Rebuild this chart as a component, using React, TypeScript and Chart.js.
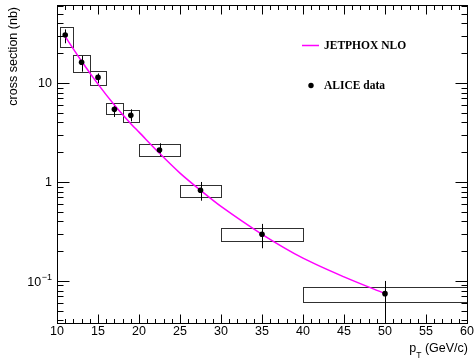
import React, { useEffect, useRef } from 'react';
import { Chart, registerables } from 'chart.js';

Chart.register(...registerables);

// ALICE data points
const ptCenters = [11, 13, 15, 17, 19, 22.5, 27.5, 35, 50];
const binLow = [10.4, 12, 14, 16, 18, 20, 25, 30, 40];
const binHigh = [12, 14, 16, 18, 20, 25, 30, 40, 60];
const aliceValues = [30.5, 16.2, 11.4, 5.42, 4.71, 2.1, 0.824, 0.296, 0.0744];
const statLow = [25.2, 13.0, 9.93, 4.54, 4.1, 1.83, 0.647, 0.214, 0.03];
const statHigh = [34.8, 18.8, 12.5, 6.13, 5.42, 2.46, 1.0, 0.377, 0.1];
const sysLow = [23.3, 12.9, 9.48, 4.86, 4.04, 1.83, 0.7, 0.253, 0.0619];
const sysHigh = [36.5, 19.0, 13.3, 6.24, 5.34, 2.42, 0.926, 0.34, 0.0865];

// JETPHOX NLO curve
const nloPt = [11, 13, 15, 17, 19, 20, 22.5, 25, 27.5, 30, 35, 40, 45, 50];
const nloValues = [29.4, 16.6, 9.75, 6.0, 3.88, 3.19, 1.95, 1.23, 0.824, 0.566, 0.296, 0.17, 0.11, 0.0745];

// Axes
const xMin = 10;
const xMax = 60;
const yMin = 0.0376;
const yMax = 61.4;
const xMajorTicks = [10, 15, 20, 25, 30, 35, 40, 45, 50, 55, 60];
const yMajorTicks = [0.1, 1, 10];

const SANS = '"Liberation Sans", Arial, Helvetica, sans-serif';
const SERIF = '"Liberation Serif", "Times New Roman", serif';

const rootStyle = {
  id: 'rootStyle',
  beforeDatasetsDraw(chart: any) {
    const { ctx, chartArea: a } = chart;
    const xs = chart.scales.x;
    const ys = chart.scales.y;
    ctx.save();
    ctx.beginPath();
    ctx.rect(a.left, a.top, a.right - a.left, a.bottom - a.top);
    ctx.clip();
    ctx.lineWidth = 1;
    ctx.strokeStyle = '#303030';
    for (let i = 0; i < ptCenters.length; i++) {
      const x0 = Math.round(xs.getPixelForValue(binLow[i])) + 0.5;
      const x1 = Math.round(xs.getPixelForValue(binHigh[i])) + 0.5;
      const y0 = Math.round(ys.getPixelForValue(sysHigh[i])) + 0.5;
      const y1 = Math.round(ys.getPixelForValue(sysLow[i])) + 0.5;
      ctx.strokeRect(x0, y0, x1 - x0, y1 - y0);
    }
    ctx.strokeStyle = '#000';
    for (let i = 0; i < ptCenters.length; i++) {
      const px = Math.round(xs.getPixelForValue(ptCenters[i])) + 0.5;
      ctx.beginPath();
      ctx.moveTo(px, ys.getPixelForValue(statHigh[i]));
      ctx.lineTo(px, ys.getPixelForValue(statLow[i]));
      ctx.stroke();
    }
    ctx.restore();
  },
  afterDraw(chart: any) {
    const { ctx, chartArea: a } = chart;
    const xs = chart.scales.x;
    const ys = chart.scales.y;
    const L = Math.round(a.left) + 0.5;
    const R = Math.round(a.right) + 0.5;
    const T = Math.round(a.top) + 0.5;
    const B = Math.round(a.bottom) + 0.5;
    ctx.save();
    ctx.strokeStyle = '#000';
    ctx.lineWidth = 1;
    ctx.strokeRect(L, T, R - L, B - T);

    // x ticks
    ctx.beginPath();
    for (let v = xMin; v <= xMax; v += 1) {
      const px = Math.round(xs.getPixelForValue(v)) + 0.5;
      const len = v % 5 === 0 ? 9 : 4.5;
      ctx.moveTo(px, B);
      ctx.lineTo(px, B - len);
      ctx.moveTo(px, T);
      ctx.lineTo(px, T + len);
    }
    // y ticks
    for (let e = -2; e <= 2; e++) {
      for (let k = 1; k <= 9; k++) {
        const v = k * Math.pow(10, e);
        if (v < yMin || v > yMax) continue;
        const py = Math.round(ys.getPixelForValue(v)) + 0.5;
        const len = k === 1 ? 12 : 6;
        ctx.moveTo(L, py);
        ctx.lineTo(L + len, py);
        ctx.moveTo(R, py);
        ctx.lineTo(R - len, py);
      }
    }
    ctx.stroke();

    // x labels
    ctx.fillStyle = '#000';
    ctx.font = `12.5px ${SANS}`;
    ctx.textAlign = 'center';
    ctx.textBaseline = 'middle';
    for (const v of xMajorTicks) {
      ctx.fillText(String(v), xs.getPixelForValue(v), 331.5);
    }

    // y labels
    ctx.textAlign = 'right';
    for (const v of yMajorTicks) {
      const py = ys.getPixelForValue(v);
      if (v >= 1) {
        ctx.font = `12.5px ${SANS}`;
        ctx.fillText(String(v), 52, py + 1);
      } else {
        const exp = String(Math.round(Math.log10(v))).replace('-', '\u2212');
        ctx.font = `9px ${SANS}`;
        const we = ctx.measureText(exp).width;
        ctx.fillText(exp, 52, py - 3.5);
        ctx.font = `12.5px ${SANS}`;
        ctx.fillText('10', 52 - we - 0.5, py + 2);
      }
    }

    // y title
    ctx.save();
    ctx.translate(14, 7);
    ctx.rotate(-Math.PI / 2);
    ctx.font = `12.5px ${SANS}`;
    ctx.textAlign = 'right';
    ctx.textBaseline = 'middle';
    ctx.fillText('cross section (nb)', 0, 0);
    ctx.restore();

    // x title p_T (GeV/c)
    ctx.textAlign = 'left';
    ctx.textBaseline = 'alphabetic';
    ctx.font = `12.5px ${SANS}`;
    const rest = ' (GeV/c)';
    const wRest = ctx.measureText(rest).width;
    const wp = ctx.measureText('p').width;
    ctx.font = `8.5px ${SANS}`;
    const wT = ctx.measureText('T').width;
    const xEnd = 468;
    const xRest = xEnd - wRest;
    const xT = xRest - wT;
    const xP = xT - wp;
    ctx.fillText('T', xT, 358);
    ctx.font = `12.5px ${SANS}`;
    ctx.fillText('p', xP, 351.5);
    ctx.fillText(rest, xRest, 351.5);

    // legend
    ctx.strokeStyle = '#ff00ff';
    ctx.lineWidth = 1.5;
    ctx.beginPath();
    ctx.moveTo(302, 45.5);
    ctx.lineTo(319, 45.5);
    ctx.stroke();
    ctx.fillStyle = '#000';
    ctx.beginPath();
    ctx.arc(311, 85.5, 2.7, 0, Math.PI * 2);
    ctx.fill();
    ctx.font = `bold 11.5px ${SERIF}`;
    ctx.textBaseline = 'middle';
    ctx.textAlign = 'left';
    ctx.fillText('JETPHOX NLO', 324, 46);
    ctx.fillText('ALICE data', 324, 86);
    ctx.restore();
  },
};

export default function App() {
  const ref = useRef<HTMLCanvasElement | null>(null);
  useEffect(() => {
    if (!ref.current) return;
    const chart = new Chart(ref.current, {
      type: 'scatter',
      data: {
        datasets: [
          {
            label: 'ALICE data',
            data: ptCenters.map((x, i) => ({ x, y: aliceValues[i] })),
            pointRadius: 2.8,
            pointBackgroundColor: '#000',
            pointBorderWidth: 0,
            showLine: false,
          },
          {
            label: 'JETPHOX NLO',
            type: 'line',
            data: nloPt.map((x, i) => ({ x, y: nloValues[i] })),
            borderColor: '#ff00ff',
            borderWidth: 1.5,
            pointRadius: 0,
            tension: 0.3,
            fill: false,
          } as any,
        ],
      },
      options: {
        animation: false,
        responsive: false,
        events: [],
        layout: { padding: { left: 57, right: 9, top: 5, bottom: 38 } },
        plugins: { legend: { display: false }, tooltip: { enabled: false } },
        scales: {
          x: { type: 'linear', min: xMin, max: xMax, display: false },
          y: { type: 'logarithmic', min: yMin, max: yMax, display: false },
        },
      },
      plugins: [rootStyle],
    });
    return () => chart.destroy();
  }, []);
  return (
    <div style={{ position: 'fixed', left: 0, top: 0, width: 476, height: 361, background: '#fff' }}>
      <canvas ref={ref} width={476} height={361} style={{ display: 'block' }} />
    </div>
  );
}
